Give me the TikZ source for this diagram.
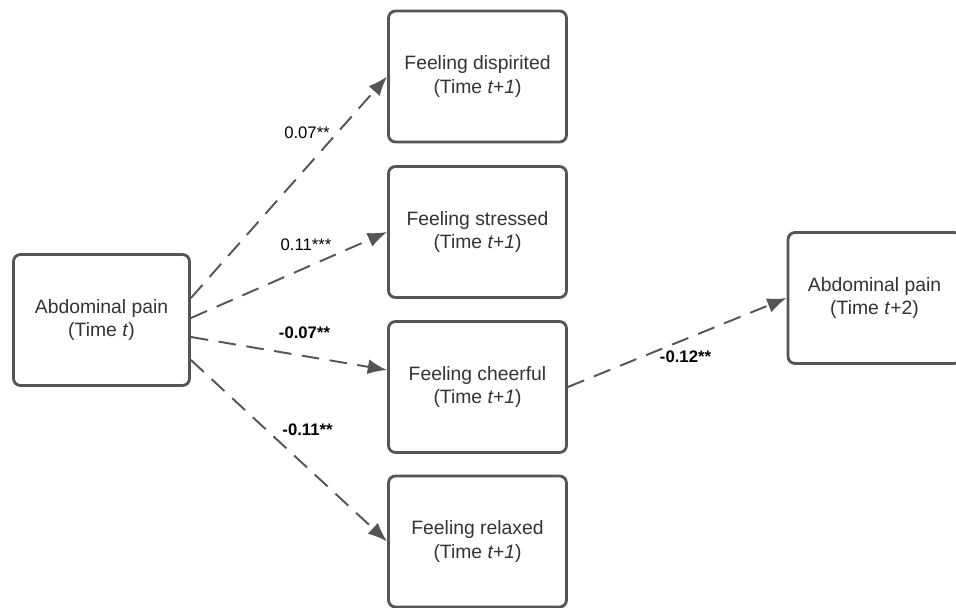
\documentclass[tikz,border=0pt]{standalone}
\usepackage{fontspec}
\setmainfont{Liberation Sans}
\usetikzlibrary{arrows.meta}

\definecolor{boxgray}{HTML}{555555}
\definecolor{txtgray}{HTML}{333333}

\begin{document}
\begin{tikzpicture}[
            state/.style={draw=boxgray,line width=1.6pt,rounded corners=4pt,minimum width=3.56cm,minimum height=2.62cm,align=center,text=txtgray,font=\fontsize{11}{13.5}\selectfont},
            path/.style={draw=boxgray,line width=1.1pt,dash pattern=on 10pt off 6pt,-{Latex[length=11pt,width=8.5pt]}},
            coef/.style={text=black,font=\fontsize{9.5}{11}\selectfont},
        ]
            \useasboundingbox (0,0) rectangle (19.12,12.16);
            \node[state,minimum width=3.52cm] (paint) at (2.03,5.76) {Abdominal pain\\(Time \textit{t})};
            \node[state] (dispirited) at (9.55,10.63) {Feeling dispirited\\(Time \textit{t+1})};
            \node[state] (stressed) at (9.55,7.52) {Feeling stressed\\(Time \textit{t+1})};
            \node[state] (cheerful) at (9.55,4.42) {Feeling cheerful\\(Time \textit{t+1})};
            \node[state] (relaxed) at (9.55,1.33) {Feeling relaxed\\(Time \textit{t+1})};
            \node[state,minimum width=3.46cm] (paintt) at (17.49,6.2) {Abdominal pain\\(Time \textit{t}+2)};

            \draw[path] ([yshift=0.44cm]paint.east) -- (dispirited.west);
            \draw[path] ([yshift=0.04cm]paint.east) -- (stressed.west);
            \draw[path] ([yshift=-0.34cm]paint.east) -- ([yshift=0.34cm]cheerful.west);
            \draw[path] ([yshift=-0.8cm]paint.east) -- (relaxed.west);
            \draw[path] (cheerful.east) -- (paintt.west);

            \node[coef] (c1) at (6.14,9.5) {0.07**};
            \node[coef] (c2) at (6.12,7.26) {0.11***};
            \node[coef,font=\fontsize{9.5}{11}\selectfont\bfseries] (c3) at (6.09,5.5) {-0.07**};
            \node[coef,font=\fontsize{9.5}{11}\selectfont\bfseries] (c4) at (6.15,3.56) {-0.11**};
            \node[coef,font=\fontsize{9.5}{11}\selectfont\bfseries] (c5) at (13.71,5.02) {-0.12**};
        \end{tikzpicture}
\end{document}
